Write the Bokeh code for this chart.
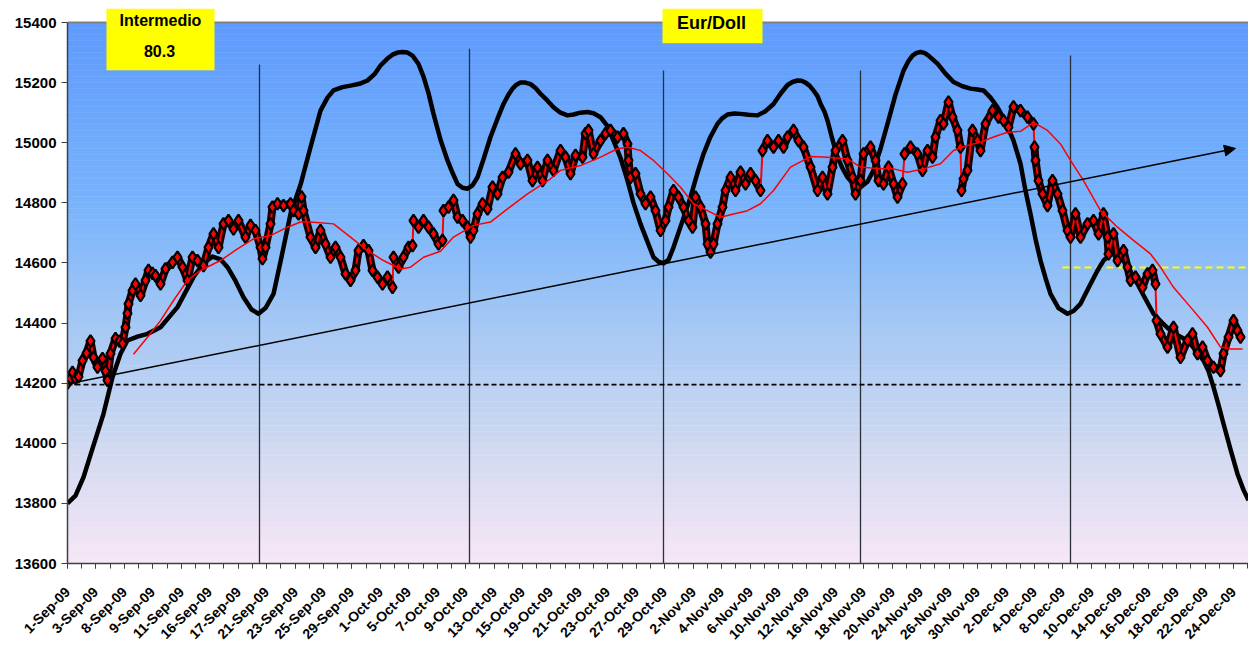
import math
import numpy as np
from bokeh.plotting import figure
from bokeh.models import Range1d, FixedTicker, Arrow, NormalHead
from bokeh.embed import file_html
from bokeh.resources import INLINE
from bokeh.core.properties import value

# ---------------- data ----------------
date_labels = ["1-Sep-09", "3-Sep-09", "8-Sep-09", "9-Sep-09", "11-Sep-09", "16-Sep-09",
               "17-Sep-09", "21-Sep-09", "23-Sep-09", "25-Sep-09", "29-Sep-09", "1-Oct-09",
               "5-Oct-09", "7-Oct-09", "9-Oct-09", "13-Oct-09", "15-Oct-09", "19-Oct-09",
               "21-Oct-09", "23-Oct-09", "27-Oct-09", "29-Oct-09", "2-Nov-09", "4-Nov-09",
               "6-Nov-09", "10-Nov-09", "12-Nov-09", "16-Nov-09", "18-Nov-09", "20-Nov-09",
               "24-Nov-09", "26-Nov-09", "30-Nov-09", "2-Dec-09", "4-Dec-09", "8-Dec-09",
               "10-Dec-09", "14-Dec-09", "16-Dec-09", "18-Dec-09", "22-Dec-09", "24-Dec-09"]
BARS_PER_LABEL = 28.44
TOTAL_BARS = 1181

price_bar = [0, 3, 5, 8, 11, 15, 19, 23, 26, 30, 35, 38, 40, 43, 48, 52, 55, 58, 60, 61,
             65, 68, 73, 78, 81, 85, 88, 93, 98, 105, 110, 115, 120, 125, 130, 136, 141, 146,
             151, 156, 161, 166, 171, 178, 183, 188, 193, 195, 198, 203, 205, 210, 216, 223,
             226, 231, 234, 236, 243, 248, 253, 258, 263, 268, 273, 278, 283, 288, 291, 296,
             301, 305, 310, 315, 320, 325, 326, 331, 336, 341, 345, 346, 351, 356, 361, 366,
             371, 375, 376, 381, 386, 390, 395, 400, 403, 406, 410, 415, 420, 425, 430, 435,
             441, 448, 453, 460, 465, 470, 475, 480, 486, 493, 498, 503, 508, 515, 518, 521,
             526, 533, 538, 543, 550, 556, 560, 561, 563, 568, 573, 578, 583, 588, 593, 598,
             601, 606, 611, 616, 621, 625, 628, 633, 638, 640, 643, 646, 650, 655, 658, 663,
             668, 673, 678, 683, 688, 693, 695, 700, 706, 711, 716, 720, 726, 731, 736, 743,
             750, 755, 760, 765, 768, 775, 780, 785, 788, 793, 796, 803, 808, 811, 816, 821,
             826, 830, 835, 837, 843, 850, 855, 860, 865, 868, 873, 876, 881, 885, 890, 893,
             894, 896, 900, 905, 910, 913, 918, 925, 931, 936, 941, 946, 953, 960, 966, 967,
             968, 971, 975, 980, 985, 990, 995, 1000, 1003, 1008, 1013, 1020, 1026, 1031, 1036,
             1040, 1041, 1046, 1050, 1056, 1060, 1063, 1068, 1075, 1080, 1085, 1088, 1089,
             1093, 1100, 1106, 1113, 1120, 1125, 1130, 1135, 1140, 1146, 1153, 1156, 1161,
             1166, 1170, 1173]
price_val = [14200, 14215, 14236, 14215, 14222, 14275, 14300, 14340, 14286, 14253, 14282,
             14240, 14209, 14298, 14348, 14340, 14332, 14386, 14432, 14464, 14508, 14530,
             14492, 14542, 14575, 14565, 14558, 14530, 14580, 14602, 14619, 14586, 14542,
             14619, 14608, 14591, 14652, 14697, 14652, 14730, 14741, 14713, 14741, 14686,
             14725, 14708, 14652, 14614, 14652, 14730, 14786, 14797, 14791, 14797, 14774,
             14763, 14820, 14774, 14686, 14652, 14708, 14663, 14619, 14652, 14619, 14564,
             14542, 14575, 14641, 14658, 14641, 14575, 14553, 14530, 14553, 14519, 14619,
             14586, 14619, 14652, 14658, 14741, 14719, 14741, 14719, 14697, 14663, 14675,
             14774, 14786, 14808, 14752, 14741, 14719, 14686, 14708, 14763, 14797, 14780,
             14852, 14830, 14885, 14902, 14963, 14930, 14941, 14874, 14918, 14874, 14941,
             14908, 14974, 14952, 14897, 14958, 14952, 15030, 15041, 14963, 15007, 15030,
             15041, 15019, 15030, 14996, 14941, 14885, 14897, 14830, 14797, 14819, 14774,
             14708, 14741, 14786, 14841, 14819, 14786, 14741, 14719, 14819, 14786, 14730,
             14663, 14636, 14663, 14730, 14786, 14841, 14885, 14841, 14902, 14863, 14897,
             14874, 14841, 14974, 15007, 14985, 15007, 14985, 15019, 15041, 15007, 14985,
             14919, 14841, 14885, 14830, 14919, 14974, 15007, 14941, 14885, 14830, 14874,
             14963, 14985, 14941, 14874, 14863, 14919, 14863, 14819, 14863, 14963, 14985,
             14963, 14908, 14974, 14952, 15019, 15074, 15063, 15135, 15085, 15041, 14985,
             14841, 14880, 14908, 15041, 15007, 14974, 15063, 15107, 15085, 15074, 15052,
             15119, 15107, 15085, 15063, 14985, 14941, 14874, 14830, 14791, 14874, 14830,
             14774, 14708, 14686, 14763, 14686, 14730, 14741, 14697, 14763, 14686, 14630,
             14697, 14608, 14641, 14586, 14542, 14553, 14519, 14564, 14575, 14530, 14408,
             14364, 14320, 14386, 14286, 14342, 14364, 14298, 14320, 14275, 14253, 14242,
             14298, 14353, 14408, 14375, 14353]

cycle_bar = [0, 8, 16, 26, 36, 45, 53, 60, 70, 80, 93, 110, 126, 136, 145, 153, 160, 168,
             176, 184, 191, 198, 206, 214, 223, 233, 243, 253, 260, 266, 275, 283, 292, 300,
             307, 313, 320, 325, 330, 335, 340, 345, 351, 356, 361, 366, 373, 380, 385, 390,
             395, 400, 405, 410, 416, 423, 430, 436, 441, 445, 449, 453, 458, 463, 468, 473,
             480, 486, 493, 500, 506, 513, 520, 526, 533, 540, 546, 553, 560, 566, 573, 580,
             586, 591, 596, 601, 606, 614, 623, 630, 636, 643, 650, 655, 660, 667, 673, 681,
             690, 698, 706, 713, 720, 725, 730, 734, 738, 742, 746, 750, 753, 757, 760, 765,
             770, 775, 780, 786, 793, 800, 806, 813, 820, 828, 836, 841, 845, 849, 853, 857,
             861, 866, 870, 878, 886, 895, 903, 910, 916, 923, 930, 938, 946, 953, 958, 963,
             968, 973, 978, 983, 991, 1000, 1006, 1013, 1023, 1030, 1036, 1043, 1050, 1056,
             1063, 1070, 1078, 1086, 1095, 1103, 1111, 1120, 1128, 1136, 1141, 1146, 1151,
             1156, 1163, 1170, 1176, 1181]
cycle_val = [13800, 13826, 13887, 13993, 14098, 14220, 14298, 14342, 14355, 14364, 14386,
             14453, 14553, 14600, 14621, 14612, 14586, 14540, 14486, 14445, 14431, 14450,
             14497, 14620, 14763, 14860, 14985, 15107, 15150, 15174, 15185, 15190, 15196,
             15207, 15228, 15257, 15280, 15293, 15300, 15302, 15300, 15290, 15262, 15220,
             15165, 15096, 15010, 14941, 14900, 14863, 14850, 14847, 14858, 14885, 14945,
             15019, 15080, 15129, 15160, 15180, 15193, 15200, 15200, 15195, 15182, 15163,
             15140, 15118, 15100, 15091, 15094, 15100, 15102, 15098, 15085, 15055, 15007,
             14950, 14874, 14800, 14730, 14670, 14619, 14604, 14599, 14610, 14652, 14730,
             14819, 14900, 14963, 15020, 15063, 15082, 15094, 15097, 15096, 15093, 15091,
             15105, 15129, 15163, 15192, 15202, 15207, 15206, 15200, 15190, 15174, 15155,
             15130, 15103, 15074, 15010, 14952, 14915, 14885, 14862, 14852, 14870, 14908,
             14980, 15063, 15160, 15240, 15272, 15290, 15299, 15302, 15299, 15290, 15275,
             15263, 15230, 15202, 15188, 15180, 15177, 15174, 15150, 15118, 15070, 15007,
             14930, 14840, 14763, 14680, 14608, 14550, 14497, 14450, 14431, 14440, 14464,
             14530, 14575, 14608, 14630, 14626, 14608, 14572, 14530, 14480, 14431, 14400,
             14375, 14358, 14342, 14310, 14275, 14240, 14187, 14128, 14065, 13980, 13898,
             13845, 13810]

ma_bar = [66, 80, 93, 106, 120, 133, 153, 170, 186, 203, 220, 233, 243, 266, 283, 300, 316,
          333, 343, 356, 373, 386, 406, 423, 440, 460, 483, 493, 513, 533, 550, 560, 573, 586,
          600, 613, 626, 640, 653, 666, 680, 693, 706, 723, 743, 760, 780, 793, 813, 826, 840,
          856, 873, 886, 900, 913, 926, 940, 953, 966, 980, 993, 1003, 1016, 1033, 1050, 1066,
          1083, 1093, 1106, 1123, 1140, 1153, 1163, 1175]
ma_val = [14296, 14353, 14408, 14475, 14542, 14575, 14608, 14647, 14680, 14691, 14719, 14736,
          14736, 14730, 14686, 14641, 14608, 14580, 14586, 14619, 14639, 14686, 14725, 14736,
          14780, 14830, 14880, 14908, 14924, 14952, 14980, 14985, 14974, 14941, 14897, 14852,
          14797, 14774, 14752, 14763, 14774, 14797, 14841, 14919, 14954, 14952, 14946, 14919,
          14913, 14913, 14902, 14913, 14930, 14974, 14991, 15002, 15019, 15035, 15038, 15068,
          15041, 14996, 14941, 14874, 14774, 14719, 14675, 14630, 14586, 14519, 14453, 14386,
          14320, 14314, 14314]

cycle_marker_bar = [192, 402, 596, 793, 1003]
cycle_marker_top = [15260, 15313, 15240, 15240, 15290]

trend_x = [0, 1168]
trend_y = [14197, 14981]
support_level = 14195
support_end_bar = 1173
resistance_level = 14585
resistance_start_bar = 995

intermedio_value = "80.3"
chart_title = "Eur/Doll"

Y_MIN, Y_MAX = 13600, 15400
Y_TOP = 15446.6  # a little headroom for the top text boxes

# gradient anchors (value -> colour)
grad_vals = [13600, 14000, 14400, 14800, 15400]
grad_r = [247, 207, 165, 120, 94]
grad_g = [231, 217, 200, 180, 155]
grad_b = [247, 240, 245, 252, 255]

FONT = value("Liberation Sans")

p = figure(width=1248, height=652, output_backend="svg", toolbar_location=None,
           x_range=Range1d(0, TOTAL_BARS), y_range=Range1d(Y_MIN, Y_TOP),
           min_border_left=67, min_border_right=0, min_border_top=8, min_border_bottom=89)
p.outline_line_color = None
p.grid.visible = False
p.background_fill_color = "white"
p.border_fill_color = "white"

# gradient background
edges = np.linspace(Y_MIN, Y_MAX, 91)
mids = (edges[:-1] + edges[1:]) / 2
cols = ["#%02x%02x%02x" % (int(np.interp(m, grad_vals, grad_r)),
                          int(np.interp(m, grad_vals, grad_g)),
                          int(np.interp(m, grad_vals, grad_b))) for m in mids]
p.quad(left=0, right=TOTAL_BARS, bottom=edges[:-1], top=edges[1:], fill_color=cols,
       line_color=cols, line_width=0.5)

# top border line of the plot area
p.line([0, TOTAL_BARS], [Y_MAX, Y_MAX], line_color="#808080", line_width=2)

# vertical cycle markers
p.segment(x0=cycle_marker_bar, y0=[Y_MIN] * len(cycle_marker_bar), x1=cycle_marker_bar,
          y1=cycle_marker_top, line_color="#2a2f38", line_width=1.3)

# dashed support / resistance
p.segment(x0=[0], y0=[support_level], x1=[support_end_bar], y1=[support_level],
          line_color="black", line_width=1.6, line_dash="5 3")
p.segment(x0=[resistance_start_bar], y0=[resistance_level], x1=[TOTAL_BARS],
          y1=[resistance_level], line_color="#ffff00", line_width=2, line_dash="7 4")

# trend arrow
p.add_layout(Arrow(end=NormalHead(size=11, fill_color="black", line_color="black"),
                   x_start=trend_x[0], y_start=trend_y[0], x_end=trend_x[1], y_end=trend_y[1],
                   line_color="black", line_width=1.5, level="glyph"))

# cycle curve
p.line(cycle_bar, cycle_val, line_color="black", line_width=4.5, line_join="round")

# price: dark outline ribbon (broken at the sharp gaps, where only the red line shows)
pb = np.array(price_bar, dtype=float)
pv = np.array(price_val, dtype=float)
gap = (np.abs(np.diff(pv)) > 70) & (np.diff(pb) <= 2)
rib_x, rib_y = [pb[0]], [pv[0]]
for i in range(1, len(pb)):
    if gap[i - 1]:
        rib_x.append(np.nan)
        rib_y.append(np.nan)
    rib_x.append(pb[i])
    rib_y.append(pv[i])
p.line(rib_x, rib_y, line_color="#1a0000", line_width=8, line_join="round",
       line_cap="round")
p.line(price_bar, price_val, line_color="#ff0000", line_width=2)
p.scatter(price_bar, price_val, marker="diamond", size=12, fill_color="#ff0000",
          line_color="black", line_width=2.2)

# moving average
p.line(ma_bar, ma_val, line_color="#ff0000", line_width=1.5)

# text boxes
p.quad(left=[39], right=[147], bottom=[15241], top=[Y_TOP], fill_color="#ffff00",
       line_color=None)
p.quad(left=[595], right=[695], bottom=[15331], top=[Y_TOP], fill_color="#ffff00",
       line_color=None)
p.text(x=[93, 92], y=[15406, 15304], text=["Intermedio", intermedio_value],
       text_font=FONT, text_font_style="bold", text_font_size="16px",
       text_align="center", text_baseline="middle", text_color="black")
p.text(x=[644], y=[15398], text=[chart_title], text_font=FONT, text_font_style="bold",
       text_font_size="18px", text_align="center", text_baseline="middle",
       text_color="black")

# axes
yax = p.yaxis[0]
yax.ticker = FixedTicker(ticks=list(range(Y_MIN, Y_MAX + 1, 200)), minor_ticks=[])
yax.bounds = (Y_MIN, Y_MAX)
yax.major_label_text_font = "Liberation Sans"
yax.major_label_text_font_style = "bold"
yax.major_label_text_font_size = "15px"
yax.major_label_text_color = "black"
yax.axis_line_color = "#404040"
yax.axis_line_width = 1.5
yax.major_tick_line_color = "#404040"
yax.major_tick_out = 6
yax.major_tick_in = 0
yax.major_label_standoff = 5

xticks = [round(i * BARS_PER_LABEL) for i in range(len(date_labels))]
xminor = [round(i * BARS_PER_LABEL / 2) for i in range(2 * len(date_labels))
          if i * BARS_PER_LABEL / 2 <= TOTAL_BARS]
xax = p.xaxis[0]
xax.ticker = FixedTicker(ticks=xticks, minor_ticks=xminor)
xax.major_label_overrides = {t: lab for t, lab in zip(xticks, date_labels)}
xax.major_label_orientation = math.pi / 4
xax.major_label_text_font = "Liberation Sans"
xax.major_label_text_font_style = "bold"
xax.major_label_text_font_size = "14px"
xax.major_label_text_color = "black"
xax.axis_line_color = "#404040"
xax.axis_line_width = 1.5
xax.major_tick_line_color = "#404040"
xax.minor_tick_line_color = "#404040"
xax.major_tick_out = 5
xax.major_tick_in = 0
xax.minor_tick_out = 5
xax.minor_tick_in = 0
xax.major_label_standoff = 21

open("out.html", "w").write(file_html(p, INLINE))
